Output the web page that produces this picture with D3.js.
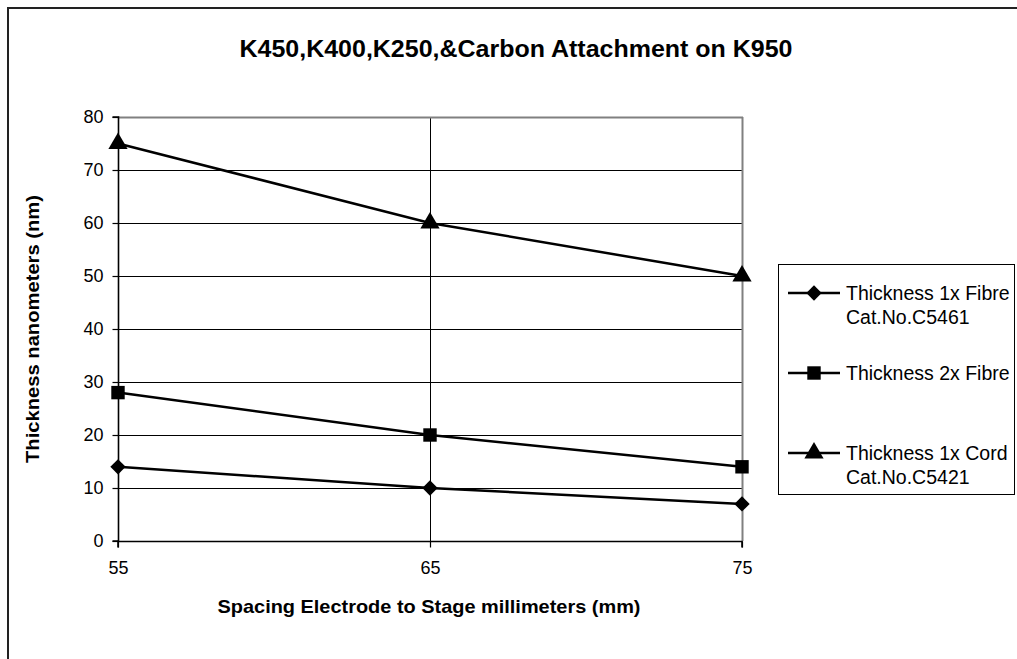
<!DOCTYPE html>
<html>
<head>
<meta charset="utf-8">
<script src="https://cdn.jsdelivr.net/npm/d3@7/dist/d3.min.js"></script>
<style>
  body { margin: 0; background: #fff; }
  svg { display: block; font-family: "Liberation Sans", Arial, sans-serif; }
</style>
</head>
<body>
<svg id="chart" width="1017" height="659"></svg>
<script>
const title = "K450,K400,K250,&Carbon Attachment on K950";
const xLabel = "Spacing Electrode to Stage millimeters (mm)";
const yLabel = "Thickness nanometers (nm)";
const spacings = [55, 65, 75];
const fibre1x = [14, 10, 7];
const fibre2x = [28, 20, 14];
const cord1x = [75, 60, 50];
const yTicks = [0, 10, 20, 30, 40, 50, 60, 70, 80];
const seriesNames = [
  ["Thickness 1x Fibre", "Cat.No.C5461"],
  ["Thickness 2x Fibre"],
  ["Thickness 1x Cord", "Cat.No.C5421"]
];
const markers = ["diamond", "square", "triangle"];

const series = [fibre1x, fibre2x, cord1x].map((vals, i) => ({
  name: seriesNames[i], marker: markers[i],
  points: vals.map((v, j) => ({ x: spacings[j], y: v }))
}));

const svg = d3.select("#chart");
const L = 118, R = 742, T = 117, B = 541;

const x = d3.scaleLinear().domain([55, 75]).range([L, R]);
const y = d3.scaleLinear().domain([0, 80]).range([B, T]);

// outer frame
svg.append("rect").attr("x", 8).attr("y", 8).attr("width", 1100).attr("height", 1000)
  .attr("fill", "none").attr("stroke", "#222").attr("stroke-width", 2);

// title
svg.append("text").attr("x", 516).attr("y", 57).attr("text-anchor", "middle")
  .attr("font-weight", "bold").attr("font-size", 24)
  .attr("textLength", 553).attr("lengthAdjust", "spacingAndGlyphs").text(title);

// gridlines horizontal
svg.append("g").selectAll("line").data(yTicks.filter(d => d > 0 && d < 80)).join("line")
  .attr("x1", L).attr("x2", R).attr("y1", d => y(d) + 0.5).attr("y2", d => y(d) + 0.5)
  .attr("stroke", "#000").attr("stroke-width", 1);
// vertical gridline
svg.append("g").selectAll("line").data([65]).join("line")
  .attr("x1", d => x(d) + 0.5).attr("x2", d => x(d) + 0.5).attr("y1", T).attr("y2", B)
  .attr("stroke", "#000").attr("stroke-width", 1);

// plot frame top/right gray
svg.append("line").attr("x1", L).attr("x2", R + 1).attr("y1", T + 0.5).attr("y2", T + 0.5)
  .attr("stroke", "#808080").attr("stroke-width", 2);
svg.append("line").attr("x1", R + 0.5).attr("x2", R + 0.5).attr("y1", T).attr("y2", B)
  .attr("stroke", "#808080").attr("stroke-width", 2);

// axes
const yAxis = d3.axisLeft(y).tickValues(yTicks).tickSize(6).tickPadding(9);
const gy = svg.append("g").attr("transform", `translate(${L + 0.5},0)`).call(yAxis);
const xAxis = d3.axisBottom(x).tickValues(spacings).tickSize(6).tickPadding(14);
const gx = svg.append("g").attr("transform", `translate(0,${B + 0.5})`).call(xAxis);
[gy, gx].forEach(g => {
  g.select(".domain").attr("stroke", "#000").attr("stroke-width", 1.6);
  g.selectAll(".tick line").attr("stroke", "#000").attr("stroke-width", 1.2);
  g.selectAll(".tick text").attr("font-size", 18).attr("fill", "#000")
    .attr("font-family", "Liberation Sans, Arial, sans-serif");
});
gx.select(".domain").attr("d", `M${L},6V0H${R}V6`);
gy.select(".domain").attr("d", `M-6,${B}H0V${T}H-6`);

// axis labels
svg.append("text").attr("x", 429).attr("y", 613).attr("text-anchor", "middle")
  .attr("font-weight", "bold").attr("font-size", 19)
  .attr("textLength", 423).attr("lengthAdjust", "spacingAndGlyphs").text(xLabel);
svg.append("text").attr("transform", `translate(39,${(T + B) / 2}) rotate(-90)`)
  .attr("text-anchor", "middle").attr("font-weight", "bold").attr("font-size", 19)
  .attr("textLength", 268).attr("lengthAdjust", "spacingAndGlyphs").text(yLabel);

// marker symbol
function sym(type) {
  if (type === "diamond") return d3.symbol().type(d3.symbolDiamond2).size(150)();
  if (type === "square") return d3.symbol().type(d3.symbolSquare).size(180)();
  return d3.symbol().type(d3.symbolTriangle).size(160)();
}

const line = d3.line().x(d => x(d.x)).y(d => y(d.y));
series.forEach(s => {
  svg.append("path").datum(s.points).attr("d", line)
    .attr("fill", "none").attr("stroke", "#000").attr("stroke-width", 2.5);
  svg.append("g").selectAll("path").data(s.points).join("path")
    .attr("d", sym(s.marker))
    .attr("transform", d => `translate(${x(d.x)},${y(d.y)})`)
    .attr("fill", "#000");
});

// legend
const lg = svg.append("g");
lg.append("rect").attr("x", 778.5).attr("y", 264.5).attr("width", 236).attr("height", 230)
  .attr("fill", "#fff").attr("stroke", "#000").attr("stroke-width", 1);
const legendY = [293, 373, 453];
series.forEach((s, i) => {
  const cy = legendY[i];
  lg.append("line").attr("x1", 788).attr("x2", 840).attr("y1", cy).attr("y2", cy)
    .attr("stroke", "#000").attr("stroke-width", 2.5);
  lg.append("path").attr("d", sym(s.marker)).attr("transform", `translate(814,${cy})`).attr("fill", "#000");
  s.name.forEach((t, k) => {
    lg.append("text").attr("x", 846).attr("y", cy + 7 + k * 24).attr("font-size", 19.5).text(t);
  });
});
</script>
</body>
</html>
